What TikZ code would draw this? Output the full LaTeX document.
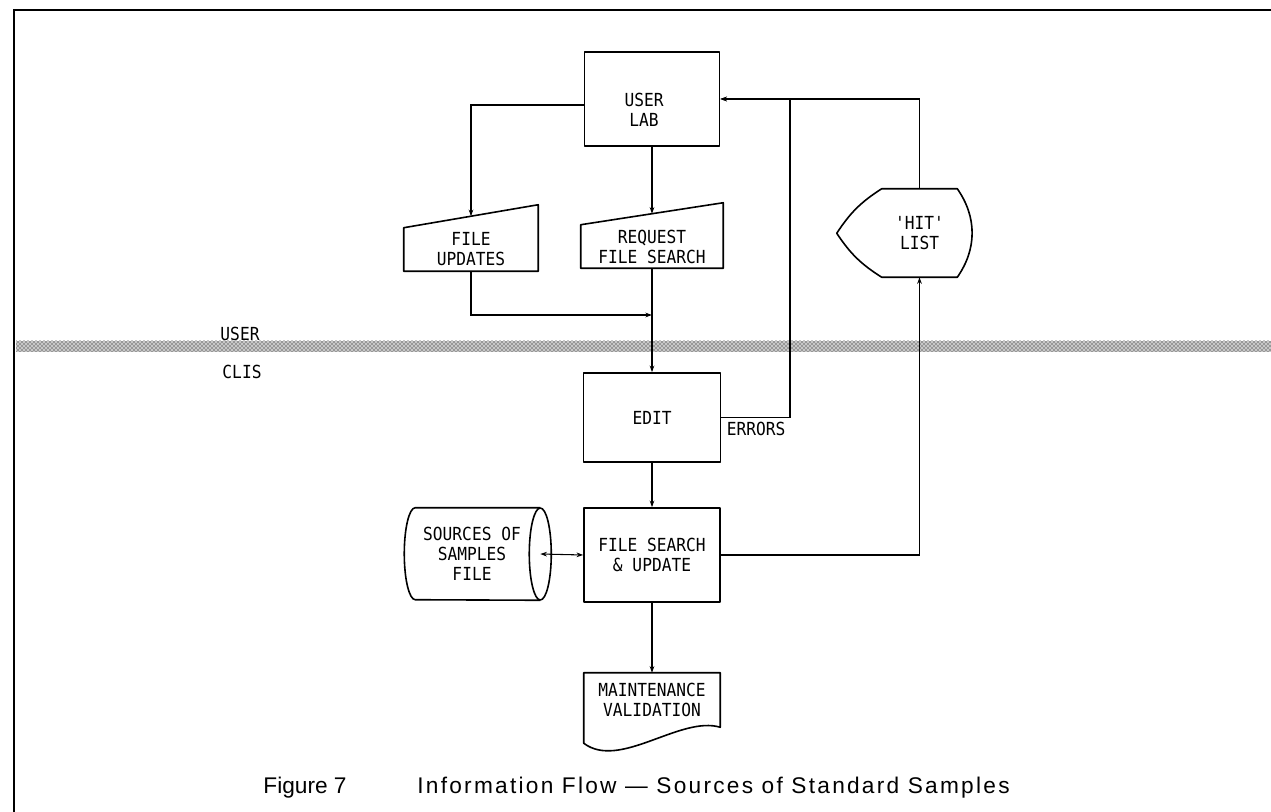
\documentclass[tikz,border=0pt]{standalone}
\usepackage{fontspec}
\newfontfamily\boxfont[FakeStretch=0.9]{DejaVu Sans Mono}
\newfontfamily\capfont{Liberation Sans}
\newfontfamily\capfontsp[LetterSpace=10]{Liberation Sans}
\usetikzlibrary{arrows.meta,calc,patterns}
\begin{document}
\begin{tikzpicture}[x=0.75pt,y=0.75pt,
  lbl/.style={font=\boxfont\fontsize{13.5}{15}\selectfont,align=center,inner sep=0pt},
  blk/.style={lbl,minimum width=102pt,minimum height=70.5pt},
  shp/.style={line width=1.2pt,line join=round},
  flow/.style={line width=0.8pt,-{Stealth[length=5pt,width=3.5pt]}}]
\useasboundingbox (0,0) rectangle (1271,-812);
\draw[line width=1.6pt] (1271,-10) -- (14,-10) -- (14,-812);
% user / clis band
\fill[black!22] (16,-341) rectangle (1271,-352);
\fill[pattern=crosshatch dots,pattern color=black] (16,-341) rectangle (1271,-352);
\node[lbl] (usr) at (240,-334) {USER};
\node[lbl] (clis) at (242,-372) {CLIS};
% boxes
\node[blk,draw,shp,minimum width=101.25pt] (lab) at (652,-99) {};
\node[lbl] (labtxt) at (644,-110) {USER\\LAB};
\node[blk,minimum width=100.5pt,minimum height=32.25pt] (fu) at (471,-249.5) {FILE\\UPDATES};
\node[blk,minimum width=106.5pt,minimum height=32.25pt] (rq) at (652,-246.5) {REQUEST\\FILE SEARCH};
\node[blk,minimum width=56.25pt,minimum height=66pt] (hit) at (919.5,-233) {'HIT'\\LIST};
\node[blk,draw,shp,minimum width=102.75pt,minimum height=66.75pt] (edit) at (652,-417.5) {EDIT};
\node[blk,draw,shp] (fs) at (652,-555) {FILE SEARCH\\\& UPDATE};
\node[blk,minimum height=69pt] (src) at (472,-554) {SOURCES OF\\SAMPLES\\FILE};
\node[blk,minimum height=40.5pt] (maint) at (652,-700) {MAINTENANCE\\VALIDATION};
% outlines
\draw[shp] (fu.north west) -- (fu.south west) -- (fu.south east) -- (fu.north east) -- ++(0,23) -- cycle;
\draw[shp] (rq.north west) -- (rq.south west) -- (rq.south east) -- (rq.north east) -- ++(0,22) -- cycle;
\draw[shp] (hit.north west) -- (hit.north east) to[bend left=35] (hit.south east) -- (hit.south west)
  to[bend left=12] ++(-45,44) to[bend left=12] (hit.north west) -- cycle;
\draw[shp] (src.north east) -- ++(-125,0) arc[start angle=90,end angle=270,x radius=11,y radius=46] -- (src.south east);
\draw[shp] (src.east) ellipse[x radius=11,y radius=46];
\draw[shp] ($(maint.south west)+(0,-16)$) -- (maint.north west) -- (maint.north east) -- (maint.south east)
  .. controls ($(maint.south east)+(-40,12)$) and ($(maint.south west)+(36,-43)$) .. ($(maint.south west)+(0,-16)$) -- cycle;
% connectors
\coordinate (merge) at (652,-315);
\coordinate (errx) at (790,-99);
\draw[flow] ([yshift=-4.5pt]lab.west) -| ($(fu.north)+(0,11.5)$);
\draw[flow] (lab.south) -- ($(rq.north)+(0,11)$);
\draw[flow] (fu.south) |- (merge);
\draw[flow] (rq.south) -- (edit.north);
\draw[flow] (edit.south) -- (fs.north);
\draw[flow] (fs.south) -- (maint.north);
\draw[flow,{Stealth[length=5pt,width=3.5pt]}-{Stealth[length=5pt,width=3.5pt]}] (src.east) -- (fs.west);
\draw[flow] (edit.east) -| node[lbl,below left,inner sep=3pt]{ERRORS} (errx) -- (lab.east);
\draw[flow] (fs.east) -| (hit.south);
\draw[flow] (hit.north) |- (lab.east);
% caption
\node[font=\capfont\fontsize{17}{20}\selectfont] (fig) at (305,-788) {Figure 7};
\node[font=\capfontsp\fontsize{17}{20}\selectfont] (cap) at (713.5,-788) {Information Flow — Sources of Standard Samples};
\end{tikzpicture}
\end{document}
